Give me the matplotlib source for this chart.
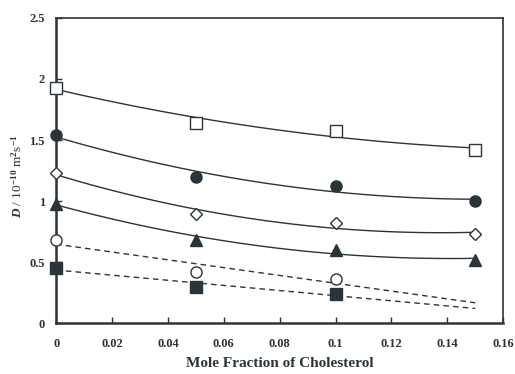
import matplotlib
matplotlib.use("Agg")
import matplotlib.pyplot as plt
import numpy as np

plt.rcParams['font.family'] = ['Liberation Serif', 'DejaVu Serif']
plt.rcParams['mathtext.fontset'] = 'custom'
plt.rcParams['mathtext.rm'] = 'Liberation Serif:bold'
plt.rcParams['mathtext.it'] = 'Liberation Serif:italic:bold'

ink = "#2b3438"

x = [0.0, 0.05, 0.10, 0.15]
x3 = [0.0, 0.05, 0.10]
sq_open = [1.93, 1.64, 1.57, 1.42]
circ_fill = [1.54, 1.20, 1.12, 1.00]
diamond = [1.23, 0.89, 0.82, 0.73]
triangle = [0.98, 0.68, 0.60, 0.52]
circ_open = [0.68, 0.42, 0.36]
sq_fill = [0.45, 0.30, 0.24]

fig = plt.figure(figsize=(5.15, 3.74), dpi=100)
ax = fig.add_axes([0.109, 0.136, 0.868, 0.816])

xs = np.linspace(0, 0.15, 100)
# quadratic fits, solid
for y, mk, fc in [(sq_open, 's', 'white'), (circ_fill, 'o', ink),
                  (diamond, 'D', 'white'), (triangle, '^', ink)]:
    p = np.polyfit(x, y, 2)
    ax.plot(xs, np.polyval(p, xs), color=ink, lw=1.0)
    ms = 6 if mk == 'D' else 8
    ax.plot(x, y, mk, ms=ms, mfc=fc, mec=ink, mew=1.0, clip_on=False, zorder=5)

# linear fits, dashed, extended to 0.15
for y, mk, fc in [(circ_open, 'o', 'white'), (sq_fill, 's', ink)]:
    p = np.polyfit(x3, y, 1)
    ax.plot(xs, np.polyval(p, xs), color=ink, lw=1.0, ls=(0, (4, 3)))
    ax.plot(x3, y, mk, ms=8, mfc=fc, mec=ink, mew=1.0, clip_on=False, zorder=5)

ax.set_xlim(0, 0.16)
ax.set_ylim(0, 2.5)
ax.set_xticks([0, 0.02, 0.04, 0.06, 0.08, 0.1, 0.12, 0.14, 0.16])
ax.set_xticklabels(['0', '0.02', '0.04', '0.06', '0.08', '0.1', '0.12', '0.14', '0.16'])
ax.set_yticks([0, 0.5, 1, 1.5, 2, 2.5])
ax.set_yticklabels(['0', '0.5', '1', '1.5', '2', '2.5'])
ax.tick_params(direction='in', length=4, width=1, colors=ink, labelsize=9)
ax.tick_params(axis='x', pad=11)
ax.tick_params(axis='y', pad=8)
for lab in ax.get_xticklabels() + ax.get_yticklabels():
    lab.set_fontweight('bold')
for s in ax.spines.values():
    s.set_color(ink)
    s.set_linewidth(1.2)
ax.spines['left'].set_linewidth(1.8)
ax.spines['bottom'].set_linewidth(1.8)

ax.set_xlabel('Mole Fraction of Cholesterol', fontsize=11, fontweight='bold', color=ink, labelpad=5)
ax.set_ylabel(r'$D$ / 10$^{-10}$ m$^{2}$s$^{-1}$', fontsize=9.5, color=ink)
ax.yaxis.set_label_coords(-0.07, 0.48)

fig.savefig("out.png", dpi=100)
